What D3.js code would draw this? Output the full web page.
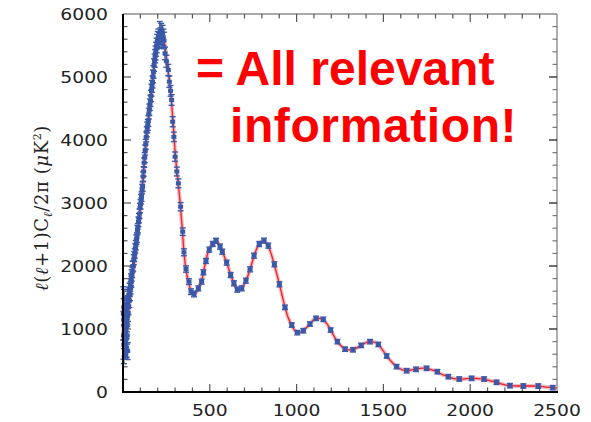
<!DOCTYPE html>
<html>
<head>
<meta charset="utf-8">
<script src="https://cdn.jsdelivr.net/npm/d3@7"></script>
<style>
  html, body { margin: 0; padding: 0; background: #fff; }
  svg { display: block; }
</style>
</head>
<body>
<svg id="chart" width="591" height="422"></svg>
<script>
// Measured band powers: multipole, D_ell (μK²), 1σ error
const obsEll = [2,3,4,5,6,7,8,9,10,11,12,13,14,15,16,17,18,19,20,21,22,23,24,25,26,27,28,29,30,
  32,34,36,38,40,42,44,46,48,50,53,56,59,62,65,68,71,74,77,80,83,86,89,92,95,98,101,104,107,110,
  113,116,119,122,125,128,131,134,137,140,143,146,149,152,155,158,161,164,167,170,173,176,179,182,
  185,188,191,194,197,200,204,208,212,216,220,224,228,232,236,
  242,250,261,267,274,280,286,293,300,310,319,332,344,351,363,380,392,409,434,453,463,478,497,517,
  536,559,572,597,620,639,658,684,708,732,755,785,812,837,872,901,933,972,1004,1039,1077,1112,
  1154,1196,1235,1279,1325,1372,1423,1471,1519,1576,1634,1688,1749,1811,1874,1937,2008,2080,2152,
  2229,2306,2392,2475];
const obsPower = [1250,900,1150,750,1350,950,1100,800,1000,1300,850,1150,950,700,1200,1000,850,1250,1050,700,1300,1100,900,1350,1200,650,1400,1250,1500,
  1350,1550,1450,1620,1550,1700,1650,1780,1750,1850,1900,1990,2000,2100,2150,2200,2280,2330,2420,2450,2570,2600,2700,2760,2830,2920,2980,3060,3100,3220,
  3260,3420,3500,3640,3720,3840,3930,4050,4130,4200,4240,4300,4420,4480,4560,4620,4700,4790,4850,4920,5010,5080,5190,5260,
  5330,5380,5440,5500,5560,5600,5640,5580,5700,5650,5720,5600,5690,5630,5580,
  5375,5250,5111,4925,4780,4635,4290,4050,3735,3500,3312,2941,2545,2217,1952,1752,1592,1556,1645,1752,1900,2080,2260,2350,
  2400,2307,2227,2053,1857,1725,1625,1645,1767,1947,2164,2349,2402,2323,2027,1709,1344,1063,942,973,1079,1169,
  1153,984,799,680,670,740,799,755,571,402,338,360,376,322,243,206,217,206,154,
  100,95,95,68];
const obsError = [420,380,330,300,280,260,240,230,220,210,200,190,185,180,175,170,165,160,155,150,150,145,140,140,135,135,130,130,125,
  120,115,110,105,100,100,95,95,90,90,85,85,80,80,80,75,75,75,75,75,75,75,75,75,75,75,75,75,75,75,
  75,75,75,75,80,80,80,80,80,85,85,85,85,90,90,90,90,95,95,95,100,100,100,105,
  105,110,110,115,115,120,120,125,180,130,130,130,130,130,130,
  100,95,90,90,85,85,80,75,75,70,70,65,60,55,50,45,45,45,40,40,40,40,40,40,
  40,40,40,40,40,40,40,40,40,40,40,40,40,40,40,40,35,35,35,35,35,35,
  35,35,35,35,35,35,35,35,35,35,35,35,35,35,35,35,35,35,35,
  35,35,35,35];

// Best-fit model spectrum
const modelEll = [2,5,10,16,22,30,40,50,60,70,80,90,100,110,120,130,140,150,160,170,180,190,200,210,220,230,240,250,
  260,270,280,290,300,310,320,330,340,350,360,370,380,390,400,410,425,440,455,470,485,500,520,540,560,575,600,620,640,660,
  680,700,720,740,760,785,810,830,850,870,890,910,930,950,970,990,1010,1030,1050,1075,1100,1125,1150,1175,1200,1225,1250,
  1275,1300,1325,1350,1375,1400,1425,1450,1475,1500,1525,1550,1575,1600,1625,1650,1675,1700,1725,1750,1775,1800,1830,1860,
  1890,1920,1950,1980,2010,2040,2070,2100,2130,2160,2190,2220,2250,2290,2340,2390,2430,2470,2500];
const modelPower = [1380,1150,960,930,1020,1230,1480,1720,1930,2150,2400,2650,2920,3210,3560,3900,4180,4420,4680,4950,5220,5450,5610,5700,5720,5670,5520,5320,
  5100,4860,4580,4230,3820,3520,3260,2980,2640,2260,2000,1830,1720,1610,1565,1555,1590,1680,1790,1990,2170,2290,2370,2395,2305,2210,2030,1860,1720,1630,
  1640,1720,1850,2020,2200,2350,2400,2350,2220,2040,1830,1610,1380,1190,1070,975,945,960,1005,1075,1150,1170,1155,1080,970,840,750,
  690,670,675,705,745,785,800,790,740,650,550,470,405,365,340,345,358,370,378,375,355,330,290,255,
  225,208,205,212,217,214,207,190,168,148,120,102,96,95,95,93,82,70,64];

// Axis ticks
const xTickLabels = [500, 1000, 1500, 2000, 2500];
const yTickLabels = [0, 1000, 2000, 3000, 4000, 5000, 6000];

(function draw() {
  const svg = d3.select("#chart");
  const pL = 123, pR = 557, pT = 14, pB = 392;

  const x = d3.scaleLinear().domain([0, 2500]).range([pL, pR]);
  const y = d3.scaleLinear().domain([0, 6000]).range([pB, pT]);

  // Frame: top and right lighter, left and bottom heavy
  svg.append("line").attr("x1", pL).attr("x2", pR).attr("y1", pT).attr("y2", pT)
    .attr("stroke", "#555").attr("stroke-width", 1.2);
  svg.append("line").attr("x1", pR).attr("x2", pR).attr("y1", pT).attr("y2", pB)
    .attr("stroke", "#777").attr("stroke-width", 1.2);

  // Minor and major ticks on all four sides, pointing inward
  const xMinor = d3.range(100, 2500, 100);
  const yMinor = d3.range(200, 6000, 200);
  const ticks = svg.append("g").attr("stroke", "#555");
  xMinor.forEach(v => {
    const len = v % 500 === 0 ? 8 : 4.5;
    ticks.append("line").attr("x1", x(v)).attr("x2", x(v)).attr("y1", pB).attr("y2", pB - len).attr("stroke-width", 1.2);
    ticks.append("line").attr("x1", x(v)).attr("x2", x(v)).attr("y1", pT).attr("y2", pT + len).attr("stroke-width", 1.2);
  });
  yMinor.forEach(v => {
    const len = v % 1000 === 0 ? 8 : 4.5;
    ticks.append("line").attr("x1", pL).attr("x2", pL + len).attr("y1", y(v)).attr("y2", y(v)).attr("stroke-width", 1.2);
    ticks.append("line").attr("x1", pR).attr("x2", pR - len).attr("y1", y(v)).attr("y2", y(v))
      .attr("stroke-width", 1.2).attr("stroke", v % 1000 === 0 ? "#111" : "#777");
  });

  // Model curve with soft halo
  const line = d3.line().x((d, i) => x(modelEll[i])).y(d => y(d)).curve(d3.curveCatmullRom.alpha(0.5));
  svg.append("path").datum(modelPower).attr("d", line)
    .attr("fill", "none").attr("stroke", "#f4a3a8").attr("stroke-width", 4).attr("stroke-opacity", 0.75);
  svg.append("path").datum(modelPower).attr("d", line)
    .attr("fill", "none").attr("stroke", "#e8222e").attr("stroke-width", 1.3);

  // Data points with error bars
  const blue = "#3a58a8";
  const pts = svg.append("g").attr("stroke", blue).attr("fill", blue);
  obsEll.forEach((l, i) => {
    const cx = x(l), v = obsPower[i], e = obsError[i];
    const y0 = y(v - e), y1 = y(v + e);
    pts.append("line").attr("x1", cx).attr("x2", cx).attr("y1", y0).attr("y2", y1).attr("stroke-width", 1.4);
    pts.append("line").attr("x1", cx - 3).attr("x2", cx + 3).attr("y1", y0).attr("y2", y0).attr("stroke-width", 1.4);
    pts.append("line").attr("x1", cx - 3).attr("x2", cx + 3).attr("y1", y1).attr("y2", y1).attr("stroke-width", 1.4);
    pts.append("rect").attr("x", cx - 2.5).attr("y", y(v) - 2).attr("width", 5).attr("height", 4).attr("stroke", "none");
  });

  // Heavy left and bottom axes
  svg.append("line").attr("x1", pL).attr("x2", pL).attr("y1", pT).attr("y2", pB + 1)
    .attr("stroke", "#000").attr("stroke-width", 2);
  svg.append("line").attr("x1", pL - 1).attr("x2", pR + 1).attr("y1", pB).attr("y2", pB)
    .attr("stroke", "#000").attr("stroke-width", 2);

  // Tick labels (wide digits)
  const labFont = "'DejaVu Sans', sans-serif";
  yTickLabels.forEach(v => {
    svg.append("text")
      .attr("transform", `translate(108,${y(v) + 5.5}) scale(1.25,1)`)
      .attr("text-anchor", "end")
      .attr("font-family", labFont).attr("font-size", 15).attr("fill", "#222")
      .text(v);
  });
  xTickLabels.forEach(v => {
    svg.append("text")
      .attr("transform", `translate(${x(v)},416) scale(1.25,1)`)
      .attr("text-anchor", "middle")
      .attr("font-family", labFont).attr("font-size", 15).attr("fill", "#222")
      .text(v);
  });

  // Y axis title
  const yt = svg.append("text")
    .attr("transform", "translate(48,208) rotate(-90)")
    .attr("text-anchor", "middle")
    .attr("font-family", "'DejaVu Serif', serif").attr("font-size", 18)
    .attr("letter-spacing", 0.6).attr("fill", "#222");
  yt.append("tspan").attr("font-style", "italic").text("ℓ");
  yt.append("tspan").text("(");
  yt.append("tspan").attr("font-style", "italic").text("ℓ");
  yt.append("tspan").text("+1)C");
  yt.append("tspan").attr("font-style", "italic").attr("font-size", 12).attr("dy", 4).text("ℓ");
  yt.append("tspan").attr("dy", -4).text("/2π  (");
  yt.append("tspan").attr("font-style", "italic").text("μ");
  yt.append("tspan").text("K");
  yt.append("tspan").attr("font-size", 11).attr("dy", -7).text("2");
  yt.append("tspan").attr("dy", 7).text(")");

  // Annotation
  const ann = svg.append("g").attr("font-family", "'Liberation Sans', Arial, sans-serif")
    .attr("font-weight", "bold").attr("font-size", 48).attr("fill", "#ff0000");
  ann.append("text").attr("x", 196).attr("y", 85).text("= All relevant");
  ann.append("text").attr("x", 230).attr("y", 142).attr("letter-spacing", 0.6).text("information!");
})();
</script>
</body>
</html>
